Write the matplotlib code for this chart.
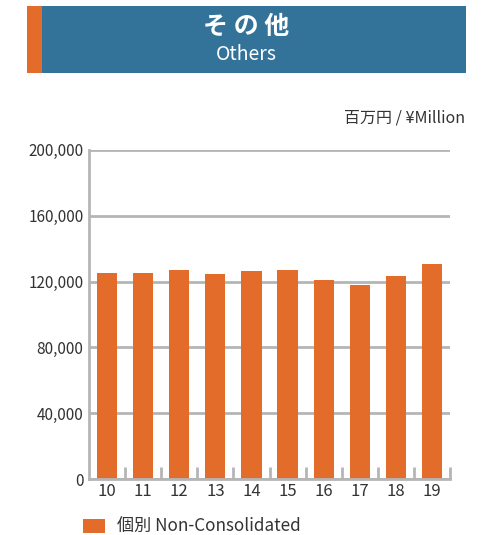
import matplotlib
matplotlib.use("Agg")
import matplotlib.pyplot as plt
from matplotlib.patches import Rectangle
import numpy as np

plt.rcParams['font.family'] = ['Noto Sans CJK JP', 'DejaVu Sans']

years = ["10", "11", "12", "13", "14", "15", "16", "17", "18", "19"]
values = [125200, 125100, 126700, 124300, 126100, 127300, 120700, 117600, 123100, 130400]
yticks = [0, 40000, 80000, 120000, 160000, 200000]
ytick_labels = ["0", "40,000", "80,000", "120,000", "160,000", "200,000"]

ORANGE = "#E36C2A"
BLUE = "#347399"
GRID = "#B5B5B5"
TEXT = "#333333"

W, H = 495, 535
fig = plt.figure(figsize=(W / 100, H / 100), dpi=100)

# header
fig.patches.append(Rectangle((27.3 / W, 1 - 72.7 / H), (466 - 27.3) / W, (72.7 - 6) / H,
                             transform=fig.transFigure, facecolor=BLUE, linewidth=0, zorder=0))
fig.patches.append(Rectangle((27.3 / W, 1 - 72.7 / H), (42 - 27.3) / W, (72.7 - 6) / H,
                             transform=fig.transFigure, facecolor=ORANGE, linewidth=0, zorder=1))
fig.text(246 / W, 1 - 26.5 / H, "そ の 他", color="white", fontsize=18, fontweight="bold",
         ha="center", va="center")
fig.text(246 / W, 1 - 54.5 / H, "Others", color="white", fontsize=14,
         ha="center", va="center")

fig.text(465 / W, 1 - 118 / H, "百万円 / ¥Million", color=TEXT, fontsize=11.5,
         ha="right", va="center")

ax = fig.add_axes([89 / W, 1 - 479.3 / H, (450 - 89) / W, (479.3 - 149.7) / H])
x = np.arange(len(years))
ax.bar(x, values, width=0.56, color=ORANGE, zorder=3)
ax.set_xlim(-0.5, len(years) - 0.5)
ax.set_ylim(0, 200000)
ax.set_yticks(yticks)
ax.set_yticklabels(ytick_labels)
ax.set_xticks(x)
ax.set_xticklabels(years)
ax.set_xticks(np.arange(len(years)) + 0.5, minor=True)
ax.tick_params(axis='x', which='major', length=0, labelsize=12, labelcolor=TEXT, pad=3)
ax.tick_params(axis='x', which='minor', direction='in', length=9, width=2, color=GRID)
ax.tick_params(axis='y', length=0, labelsize=11, labelcolor=TEXT, pad=4)
ax.yaxis.grid(True, color=GRID, linewidth=2, zorder=1)
ax.set_axisbelow(True)
for s in ["top", "right"]:
    ax.spines[s].set_visible(False)
for s in ["left", "bottom"]:
    ax.spines[s].set_color(GRID)
    ax.spines[s].set_linewidth(2)
    ax.spines[s].set_zorder(4)

# legend
fig.patches.append(Rectangle((83 / W, 1 - 533 / H), 22 / W, 14 / H,
                             transform=fig.transFigure, facecolor=ORANGE, linewidth=0))
fig.text(117 / W, 1 - 526 / H, "個別 Non-Consolidated", color=TEXT, fontsize=12.3,
         ha="left", va="center")

fig.savefig("out.png", dpi=100)
